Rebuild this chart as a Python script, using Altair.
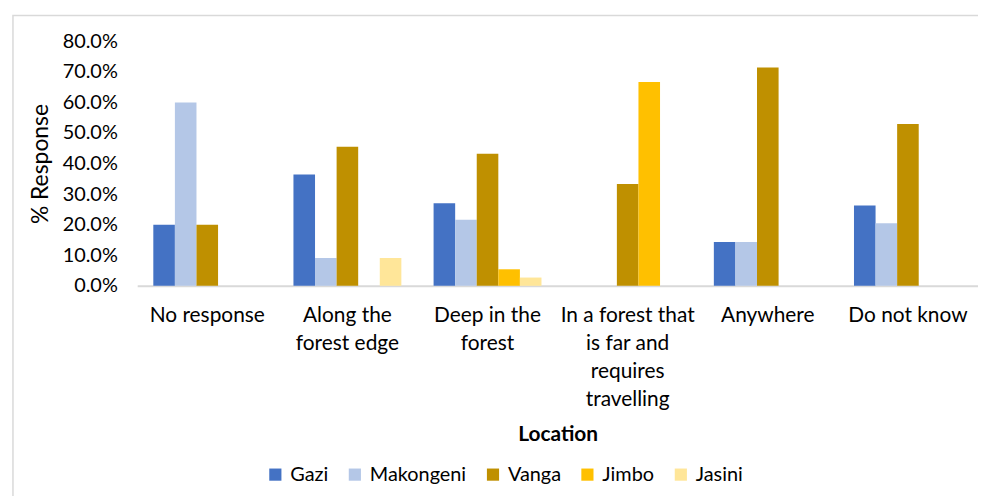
import altair as alt
import pandas as pd

categories = ["No response", "Along the forest edge", "Deep in the forest",
              "In a forest that is far and requires travelling", "Anywhere", "Do not know"]
wrapped_labels = ["No response", "Along the|forest edge", "Deep in the|forest",
                  "In a forest that|is far and|requires|travelling", "Anywhere", "Do not know"]
series = ["Gazi", "Makongeni", "Vanga", "Jimbo", "Jasini"]
colors = ["#4472C4", "#B4C7E7", "#BF9000", "#FFC000", "#FFE699"]

gazi = [20.0, 36.4, 27.0, 0.0, 14.3, 26.3]
makongeni = [60.0, 9.1, 21.6, 0.0, 14.3, 20.5]
vanga = [20.0, 45.5, 43.2, 33.3, 71.4, 52.9]
jimbo = [0.0, 0.0, 5.4, 66.7, 0.0, 0.0]
jasini = [0.0, 9.1, 2.7, 0.0, 0.0, 0.0]

values = {"Gazi": gazi, "Makongeni": makongeni, "Vanga": vanga, "Jimbo": jimbo, "Jasini": jasini}
rows = []
for s in series:
    for c, v in zip(categories, values[s]):
        rows.append({"Location": c, "Site": s, "Value": v / 100.0})
df = pd.DataFrame(rows)

# label expression for wrapped x labels
expr = "datum.value"
for c, w in reversed(list(zip(categories, wrapped_labels))):
    expr = f"datum.value == '{c}' ? split('{w}', '|') : ({expr})"

FONT = "Lato"

bars = alt.Chart(df).mark_bar().encode(
    x=alt.X("Location:N", sort=categories,
            scale=alt.Scale(paddingInner=0.23, paddingOuter=0.115),
            axis=alt.Axis(title="Location", labelAngle=0, labelExpr=expr,
                          labelFontSize=21, labelLineHeight=28, labelPadding=19,
                          labelColor="#000000", labelFont=FONT,
                          ticks=False, domainColor="#D9D9D9", domainWidth=2,
                          titleFont=FONT, titleFontSize=21, titleFontWeight="bold",
                          titleColor="#000000", titleY=150, titleBaseline="middle")),
    xOffset=alt.XOffset("Site:N", sort=series, scale=alt.Scale(paddingInner=0, paddingOuter=0)),
    y=alt.Y("Value:Q", scale=alt.Scale(domain=[0, 0.8], nice=False),
            axis=alt.Axis(title="% Response", format=".1%", values=[0, 0.1, 0.2, 0.3, 0.4, 0.5, 0.6, 0.7, 0.8],
                          grid=False, ticks=False, domain=False,
                          labelFontSize=20, labelFont=FONT, labelColor="#000000", labelPadding=20,
                          titleFont=FONT, titleFontSize=23, titleFontWeight="normal",
                          titleColor="#000000", titlePadding=10)),
    color=alt.Color("Site:N", sort=series, scale=alt.Scale(domain=series, range=colors),
                    legend=alt.Legend(title=None, orient="none", direction="horizontal",
                                      legendX=129, legendY=426, symbolType="square",
                                      symbolSize=150, symbolStrokeWidth=0,
                                      labelFontSize=20, labelFont=FONT, labelColor="#000000",
                                      columnPadding=16, labelOffset=5)),
)

border = alt.Chart(pd.DataFrame({"a": [0]})).mark_rect(
    fill=None, stroke="#D9D9D9", strokeWidth=1.5
).encode(
    x=alt.value(-125), x2=alt.value(900), y=alt.value(-26), y2=alt.value(520)
)

chart = alt.layer(border, bars).properties(
    width=846, height=246,
    autosize=alt.AutoSizeParams(type="none"),
    padding={"left": 130, "top": 32, "right": 0, "bottom": 210},
    background="white",
).configure_view(stroke=None)

chart.save("out.html", embed_options={"renderer": "svg", "actions": False})
